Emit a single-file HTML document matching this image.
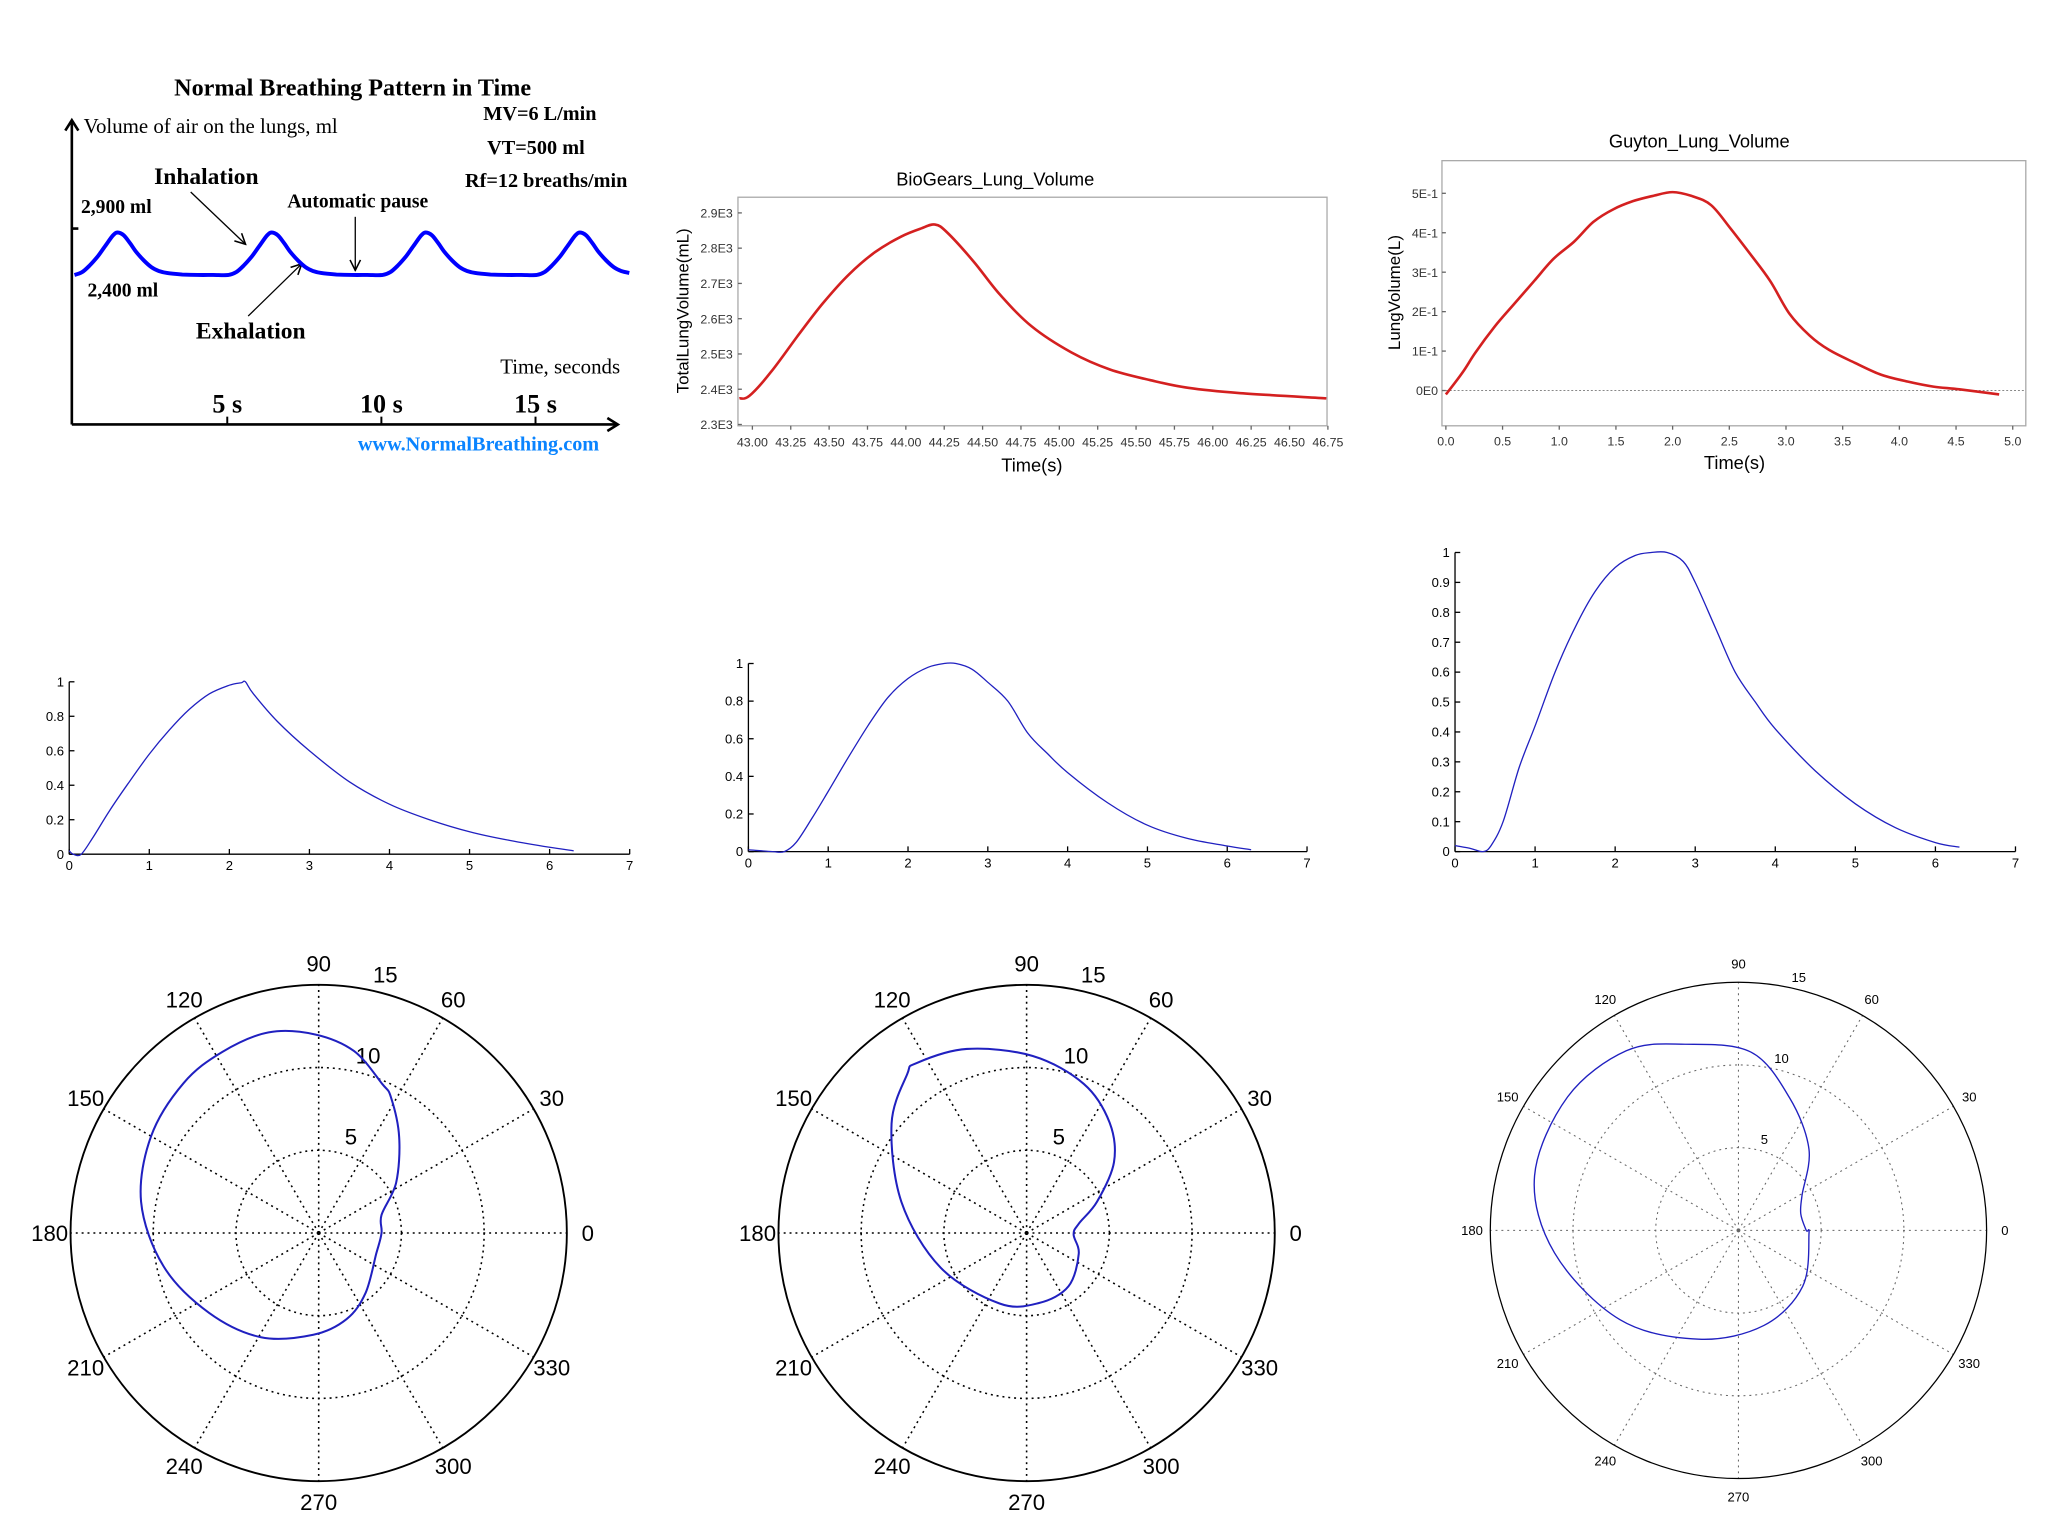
<!DOCTYPE html>
<html><head><meta charset="utf-8"><style>
html,body{margin:0;padding:0;background:#fff;width:2048px;height:1536px;overflow:hidden}
svg{display:block}
.serif{font-family:"Liberation Serif",serif}
.sans{font-family:"Liberation Sans",sans-serif}
</style></head><body>
<svg id="fig" width="2048" height="1536" viewBox="0 0 1568 1176" preserveAspectRatio="none" xmlns="http://www.w3.org/2000/svg">
<defs><marker id="arr" markerWidth="10" markerHeight="10" refX="9" refY="5" orient="auto" markerUnits="userSpaceOnUse"><path d="M1,1 L9,5 L1,9" fill="none" stroke="#000" stroke-width="1.2"/></marker></defs>
<rect width="1568" height="1176" fill="#fff"/>
<g id="p1" class="serif">
<text x="270" y="73" text-anchor="middle" font-size="18.5" font-weight="bold">Normal Breathing Pattern in Time</text>
<line x1="55" y1="325" x2="55" y2="93" stroke="#000" stroke-width="2"/>
<path d="M50,100 L55,92 L60,100" fill="none" stroke="#000" stroke-width="2"/>
<line x1="55" y1="325" x2="472" y2="325" stroke="#000" stroke-width="2"/>
<path d="M465,320 L473,325 L465,330" fill="none" stroke="#000" stroke-width="2"/>
<line x1="55" y1="175" x2="60" y2="175" stroke="#000" stroke-width="2"/>
<text x="64" y="102" font-size="16">Volume of air on the lungs, ml</text>
<text x="370" y="92" font-size="15.5" font-weight="bold">MV=6 L/min</text>
<text x="373" y="118" font-size="15.5" font-weight="bold">VT=500 ml</text>
<text x="356" y="143" font-size="15.5" font-weight="bold">Rf=12 breaths/min</text>
<text x="62" y="163" font-size="15" font-weight="bold">2,900 ml</text>
<text x="67" y="227" font-size="15" font-weight="bold">2,400 ml</text>
<text x="118" y="141" font-size="18" font-weight="bold">Inhalation</text>
<line x1="146" y1="147" x2="188" y2="187" stroke="#000" stroke-width="1" marker-end="url(#arr)"/>
<text x="220" y="159" font-size="15" font-weight="bold">Automatic pause</text>
<line x1="272" y1="166" x2="272" y2="207" stroke="#000" stroke-width="1" marker-end="url(#arr)"/>
<text x="150" y="259" font-size="18" font-weight="bold">Exhalation</text>
<line x1="190" y1="242" x2="231" y2="202" stroke="#000" stroke-width="1" marker-end="url(#arr)"/>
<text x="383" y="286" font-size="16">Time, seconds</text>
<g id="p1ticks"></g>
<path id="p1wave" fill="none" stroke="#0000ff" stroke-width="3"/>
<text x="274" y="345" font-size="15.5" font-weight="bold" fill="#0a84ff">www.NormalBreathing.com</text>
</g>
<g id="p2" class="sans">
<text x="762" y="142" text-anchor="middle" font-size="14">BioGears_Lung_Volume</text>
<rect x="565" y="151" width="451" height="175" fill="none" stroke="#aaa" stroke-width="1"/>
<text transform="translate(527,238) rotate(-90)" text-anchor="middle" font-size="13">TotalLungVolume(mL)</text>
<text x="790" y="361" text-anchor="middle" font-size="14">Time(s)</text>
<g id="p2axes"></g>
<path id="p2line" fill="none" stroke="#d42020" stroke-width="2"/>
</g>
<g id="p3" class="sans">
<text x="1301" y="113" text-anchor="middle" font-size="14">Guyton_Lung_Volume</text>
<rect x="1104" y="123" width="447" height="203" fill="none" stroke="#aaa" stroke-width="1"/>
<line x1="1104" y1="299" x2="1551" y2="299" stroke="#888" stroke-width="0.8" stroke-dasharray="1.5,1.5"/>
<text transform="translate(1072,224) rotate(-90)" text-anchor="middle" font-size="13">LungVolume(L)</text>
<text x="1328" y="359" text-anchor="middle" font-size="14">Time(s)</text>
<g id="p3axes"></g>
<path id="p3line" fill="none" stroke="#d42020" stroke-width="2"/>
</g>
<g id="row2" class="sans"></g>
<g id="row3" class="sans"></g>
</svg>
<script>
const NS="http://www.w3.org/2000/svg";
function mk(tag,attrs,parent){const e=document.createElementNS(NS,tag);for(const k in attrs)e.setAttribute(k,attrs[k]);parent.appendChild(e);return e;}
function txt(s,attrs,parent){const e=mk('text',attrs,parent);e.textContent=s;return e;}

const p1CycleTimes=[0,0.25,0.5,0.75,1.0,1.25,1.4,1.6,1.8,2.0,2.25,2.5,2.75,3.0,3.5,4.0,4.5,5.0];
const p1CycleVolumes=[2420,2450,2520,2610,2720,2830,2860,2830,2750,2660,2570,2500,2460,2440,2425,2420,2420,2420];
const p1TickLabels=["5 s","10 s","15 s"];
const p1TickTimes=[5,10,15];
const bgTimes=[42.915,42.98,43.12,43.29,43.46,43.63,43.80,43.97,44.10,44.19,44.27,44.44,44.61,44.82,45.08,45.33,45.59,45.84,46.18,46.74];
const bgVolumes=[2374,2381,2448,2548,2644,2726,2789,2833,2856,2867,2844,2763,2670,2578,2504,2456,2426,2404,2389,2374];
const bgYTicks=[2300,2400,2500,2600,2700,2800,2900];
const bgYLabels=["2.3E3","2.4E3","2.5E3","2.6E3","2.7E3","2.8E3","2.9E3"];
const bgXTicks=[43,43.25,43.5,43.75,44,44.25,44.5,44.75,45,45.25,45.5,45.75,46,46.25,46.5,46.75];
const bgXLabels=["43.00","43.25","43.50","43.75","44.00","44.25","44.50","44.75","45.00","45.25","45.50","45.75","46.00","46.25","46.50","46.75"];
const gyTimes=[0,0.15,0.26,0.43,0.61,0.78,0.95,1.13,1.30,1.48,1.65,1.82,2.0,2.17,2.34,2.51,2.69,2.86,3.03,3.21,3.38,3.61,3.84,4.07,4.30,4.53,4.88];
const gyVolumes=[-0.01,0.047,0.096,0.162,0.222,0.278,0.334,0.377,0.427,0.46,0.48,0.493,0.503,0.493,0.47,0.411,0.344,0.278,0.195,0.139,0.103,0.070,0.040,0.023,0.010,0.003,-0.01];
const gyYTicks=[0,0.1,0.2,0.3,0.4,0.5];
const gyYLabels=["0E0","1E-1","2E-1","3E-1","4E-1","5E-1"];
const gyXTicks=[0,0.5,1,1.5,2,2.5,3,3.5,4,4.5,5];
const gyXLabels=["0.0","0.5","1.0","1.5","2.0","2.5","3.0","3.5","4.0","4.5","5.0"];
const nAT=[0,0.05,0.15,0.3,0.5,0.75,1.0,1.25,1.5,1.75,2.0,2.15,2.2,2.3,2.6,3.0,3.5,4.0,4.5,5.0,5.5,6.0,6.3];
const nAV=[0.02,0.0,0.0,0.1,0.25,0.42,0.58,0.72,0.84,0.93,0.98,0.995,1.0,0.93,0.77,0.6,0.42,0.29,0.2,0.13,0.08,0.04,0.02];
const nBT=[0,0.3,0.45,0.6,0.8,1.0,1.25,1.5,1.75,2.0,2.25,2.45,2.6,2.8,3.0,3.25,3.5,3.75,4.0,4.5,5.0,5.5,6.0,6.3];
const nBV=[0.01,0.0,0.0,0.05,0.18,0.32,0.5,0.67,0.82,0.92,0.98,1.0,1.0,0.97,0.9,0.8,0.63,0.52,0.42,0.26,0.14,0.07,0.03,0.01];
const nCT=[0,0.2,0.35,0.45,0.6,0.8,1.0,1.25,1.5,1.75,2.0,2.25,2.45,2.65,2.85,3.0,3.25,3.5,3.75,4.0,4.5,5.0,5.5,6.0,6.3];
const nCV=[0.02,0.01,0.0,0.02,0.1,0.28,0.42,0.6,0.75,0.87,0.95,0.99,1.0,1.0,0.97,0.9,0.75,0.6,0.5,0.41,0.27,0.16,0.08,0.03,0.015];
const nXTicks=[0,1,2,3,4,5,6,7];
const polATheta=[0,16,33,50,62,67,79,91,104,118,132,150,170,192,216,241,267,288,308,340];
const polAR=[3.8,3.95,5.58,7.57,9.3,9.8,11.2,12.0,12.5,12.4,12.2,11.7,10.9,9.6,8.2,7.2,6.16,5.47,4.6,3.7];
const polBTheta=[10,24,39,53,69,88,108,123,127,141,166,202,249,280,308,338,358];
const polBR=[3.2,4.67,6.8,8.34,9.65,10.7,11.7,12.24,12.0,10.5,7.8,5.6,4.57,4.3,4.1,3.4,2.84];
const polCTheta=[0,15,29,49,69,86,106,122,142,165,187,217,250,285,319,357];
const polCR=[4.1,3.9,4.4,6.5,8.6,10.8,11.7,12.8,13.1,12.76,11.2,8.97,7.0,5.95,5.15,4.27];
const polRingLabels=["5","10","15"];
const polRings=[5,10,15];
const polAngles=[0,30,60,90,120,150,180,210,240,270,300,330];

function smooth(pts,closed){
  const n=pts.length;let d='M'+pts[0][0].toFixed(1)+','+pts[0][1].toFixed(1);
  const get=i=>closed?pts[(i+n)%n]:pts[Math.max(0,Math.min(n-1,i))];
  const segs=closed?n:n-1;
  for(let i=0;i<segs;i++){
    const p0=get(i-1),p1=get(i),p2=get(i+1),p3=get(i+2);
    const c1=[p1[0]+(p2[0]-p0[0])/6,p1[1]+(p2[1]-p0[1])/6];
    const c2=[p2[0]-(p3[0]-p1[0])/6,p2[1]-(p3[1]-p1[1])/6];
    d+=' C'+c1[0].toFixed(1)+','+c1[1].toFixed(1)+' '+c2[0].toFixed(1)+','+c2[1].toFixed(1)+' '+p2[0].toFixed(1)+','+p2[1].toFixed(1);
  }
  return d+(closed?' Z':'');
}
function pathFrom(xs,ys,sx,sy){return smooth(xs.map((v,i)=>[sx(v),sy(ys[i])]),false);}

(function(){
  const sx=t=>57+23.6*t, sy=v=>212-(v-2400)*0.074;
  const pts=[];
  for(let c=0;c<4;c++){
    for(let i=0;i<p1CycleTimes.length;i++){
      if(c>0&&i===0)continue;
      const t=p1CycleTimes[i]+5*c; if(t>18.05)break;
      pts.push([sx(t),sy(p1CycleVolumes[i])]);
    }
  }
  document.getElementById('p1wave').setAttribute('d',smooth(pts,false));
  const g=document.getElementById('p1ticks');
  const tx=t=>55+23.6*t+1;
  p1TickTimes.forEach((t,i)=>{
    const l=mk('line',{x1:tx(t),y1:319,x2:tx(t),y2:325,stroke:'#000','stroke-width':1.5},g);
    
    
    const e=txt(p1TickLabels[i],{x:tx(t),y:316,'text-anchor':'middle','font-size':20,'font-weight':'bold'},g);
    
    
  });
})();

(function(){
  const sx=t=>565+(t-42.906)*117.5, sy=v=>325-(v-2300)*0.27;
  document.getElementById('p2line').setAttribute('d',pathFrom(bgTimes,bgVolumes,sx,sy));
  const g=document.getElementById('p2axes');
  bgYTicks.forEach((v,i)=>{
    mk('line',{x1:565,y1:sy(v),x2:568,y2:sy(v),stroke:'#666'},g);
    const e=txt(bgYLabels[i],{x:561,y:sy(v)+3.5,'text-anchor':'end','font-size':9.5,fill:'#333'},g);
    
    
  });
  bgXTicks.forEach((v,i)=>{
    mk('line',{x1:sx(v),y1:326,x2:sx(v),y2:329,stroke:'#666'},g);
    const e=txt(bgXLabels[i],{x:sx(v),y:342,'text-anchor':'middle','font-size':9.5,fill:'#333'},g);
    
    
  });
})();

(function(){
  const sx=t=>1107+t*86.8, sy=v=>299-v*302;
  document.getElementById('p3line').setAttribute('d',pathFrom(gyTimes,gyVolumes,sx,sy));
  const g=document.getElementById('p3axes');
  gyYTicks.forEach((v,i)=>{
    mk('line',{x1:1104,y1:sy(v),x2:1107,y2:sy(v),stroke:'#666'},g);
    const e=txt(gyYLabels[i],{x:1101,y:sy(v)+3.5,'text-anchor':'end','font-size':9.5,fill:'#333'},g);
    
    
  });
  gyXTicks.forEach((v,i)=>{
    mk('line',{x1:sx(v),y1:326,x2:sx(v),y2:329,stroke:'#666'},g);
    const e=txt(gyXLabels[i],{x:sx(v),y:341,'text-anchor':'middle','font-size':9.5,fill:'#333'},g);
    
    
  });
})();

function lineChart(name,ox,oy,xu,ht,yStep,ts,vs){
  const g=mk('g',{},document.getElementById('row2'));
  
  
  const sx=t=>ox+t*xu, sy=v=>oy-v*ht;
  mk('line',{x1:ox,y1:oy,x2:sx(7),y2:oy,stroke:'#000','stroke-width':1},g);
  mk('line',{x1:ox,y1:oy,x2:ox,y2:sy(1),stroke:'#000','stroke-width':1},g);
  nXTicks.forEach(t=>{
    mk('line',{x1:sx(t),y1:oy,x2:sx(t),y2:oy-4,stroke:'#000'},g);
    const e=txt(String(t),{x:sx(t),y:oy+12,'text-anchor':'middle','font-size':10},g);
    
    
  });
  for(let v=0;v<=1.0001;v+=yStep){
    const vv=Math.round(v*10)/10;
    mk('line',{x1:ox,y1:sy(vv),x2:ox+4,y2:sy(vv),stroke:'#000'},g);
    const e=txt(String(vv),{x:ox-4,y:sy(vv)+3.5,'text-anchor':'end','font-size':10},g);
    
    
  }
  const p=mk('path',{d:pathFrom(ts,vs,sx,sy),fill:'none',stroke:'#2020c0','stroke-width':1},g);
  
  
}
lineChart('normalized-chart-a',53,654,61.3,132,0.2,nAT,nAV);
lineChart('normalized-chart-b',573,652,61.1,144,0.2,nBT,nBV);
lineChart('normalized-chart-c',1114,652,61.3,229,0.1,nCT,nCV);

function polar(name,cx,cy,R,fs,lw,col,th,rs){
  const g=mk('g',{},document.getElementById('row3'));
  
  
  const k=R/15, big=fs>12;
  polAngles.forEach(a=>{
    const r=a*Math.PI/180;
    mk('line',{x1:cx,y1:cy,x2:cx+R*Math.cos(r),y2:cy-R*Math.sin(r),stroke:col,'stroke-width':lw,'stroke-dasharray':'1.5,3'},g);
    const lr=R+(big?16:14);
    const e=txt(String(a),{x:cx+lr*Math.cos(r),y:cy-lr*Math.sin(r)+fs*0.35,'text-anchor':'middle','font-size':fs},g);
    
    
  });
  polRings.forEach((rv,i)=>{
    if(rv<15) mk('circle',{cx:cx,cy:cy,r:rv*k,fill:'none',stroke:col,'stroke-width':lw,'stroke-dasharray':'1.5,3'},g);
    const a=78*Math.PI/180, rr=rv*k+(big?12:8);
    const e=txt(polRingLabels[i],{x:cx+rr*Math.cos(a)+(big?9:5),y:cy-rr*Math.sin(a)+fs*0.35,'text-anchor':'middle','font-size':fs},g);
    
    
  });
  mk('circle',{cx:cx,cy:cy,r:R,fill:'none',stroke:'#000','stroke-width':lw*1.2},g);
  const pts=th.map((t,i)=>{const r=t*Math.PI/180,rr=rs[i]*k;return [cx+rr*Math.cos(r),cy-rr*Math.sin(r)];});
  const p=mk('path',{d:smooth(pts,true),fill:'none',stroke:'#2020c0','stroke-width':lw*1.3,'stroke-linejoin':'round'},g);
  
  
}
polar('polar-chart-a',244,944,190,17,1.2,'#000',polATheta,polAR);
polar('polar-chart-b',786,944,190,17,1.2,'#000',polBTheta,polBR);
polar('polar-chart-c',1331,942,190,10,0.8,'#666',polCTheta,polCR);
</script>
</body></html>
